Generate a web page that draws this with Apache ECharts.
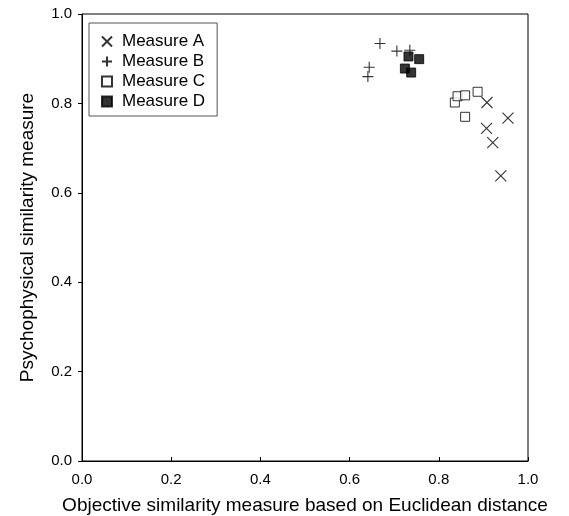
<!DOCTYPE html>
<html>
<head>
<meta charset="utf-8">
<script src="https://cdn.jsdelivr.net/npm/echarts@6/dist/echarts.min.js"></script>
<style>
    html, body { margin: 0; padding: 0; background: #fff; }
    #chart { width: 569px; height: 516px; }
</style>
</head>
<body>
<div id="chart"></div>
<script>
/**
 * 数据
 */
var measureA = [[0.908, 0.802], [0.955, 0.767], [0.907, 0.744], [0.921, 0.712], [0.939, 0.638]];
var measureB = [[0.668, 0.934], [0.706, 0.917], [0.735, 0.919], [0.644, 0.881], [0.641, 0.860]];
var measureC = [[0.836, 0.802], [0.842, 0.816], [0.859, 0.818], [0.887, 0.826], [0.859, 0.770]];
var measureD = [[0.732, 0.905], [0.756, 0.899], [0.724, 0.878], [0.738, 0.869]];
var seriesNames = ['Measure A', 'Measure B', 'Measure C', 'Measure D'];
var xTitle = 'Objective similarity measure based on Euclidean distance';
var yTitle = 'Psychophysical similarity measure';

var font = 'Liberation Sans, Arial, sans-serif';
var crossPath = 'path://M0,0L10,10M10,0L0,10';
var plusPath = 'path://M5,0L5,10M0,5L10,5';

function lineSeries(name, data, symbol) {
    return {
        name: name,
        type: 'scatter',
        data: data,
        symbol: symbol,
        symbolSize: 11,
        itemStyle: {color: 'rgba(0,0,0,0)', borderColor: '#000', borderWidth: 1.1},
        emphasis: {disabled: true}
    };
}

var chart = echarts.init(document.getElementById('chart'));
var option = {
    animation: false,
    grid: {
        left: 82, right: 41, top: 14, bottom: 55,
        outerBoundsMode: 'none',
        show: true, borderColor: '#000', borderWidth: 1
    },
    legend: {
        orient: 'vertical',
        left: 89, top: 23,
        data: seriesNames,
        borderColor: '#555', borderWidth: 1,
        padding: [10, 12, 6, 12],
        itemGap: 3,
        itemWidth: 10, itemHeight: 10,
        textStyle: {fontFamily: font, fontSize: 17, color: '#000', padding: [0, 0, 0, 5]}
    },
    xAxis: {
        type: 'value', min: 0, max: 1, interval: 0.2,
        name: xTitle, nameLocation: 'middle', nameGap: 35,
        nameTextStyle: {fontFamily: font, fontSize: 19, color: '#000'},
        axisLine: {lineStyle: {color: '#000'}},
        axisTick: {inside: true, length: 4, lineStyle: {color: '#000'}},
        axisLabel: {fontFamily: font, fontSize: 15, color: '#000', margin: 11,
            formatter: function (v) { return v.toFixed(1); }},
        splitLine: {show: false}
    },
    yAxis: {
        type: 'value', min: 0, max: 1, interval: 0.2,
        name: yTitle, nameLocation: 'middle', nameGap: 45,
        nameTextStyle: {fontFamily: font, fontSize: 19, color: '#000'},
        axisLine: {show: true, lineStyle: {color: '#000'}},
        axisTick: {show: true, length: 4, lineStyle: {color: '#000'}},
        axisLabel: {fontFamily: font, fontSize: 15, color: '#000', margin: 10,
            formatter: function (v) { return v.toFixed(1); }},
        splitLine: {show: false}
    },
    series: [
        lineSeries('Measure A', measureA, crossPath),
        lineSeries('Measure B', measureB, plusPath),
        {
            name: 'Measure C', type: 'scatter', data: measureC,
            symbol: 'rect', symbolSize: 9,
            itemStyle: {color: '#fff', borderColor: '#000', borderWidth: 1},
            emphasis: {disabled: true}
        },
        {
            name: 'Measure D', type: 'scatter', data: measureD,
            symbol: 'rect', symbolSize: 9,
            itemStyle: {color: '#000', borderColor: '#000', borderWidth: 1},
            emphasis: {disabled: true}
        }
    ]
};
chart.setOption(option);
</script>
</body>
</html>
